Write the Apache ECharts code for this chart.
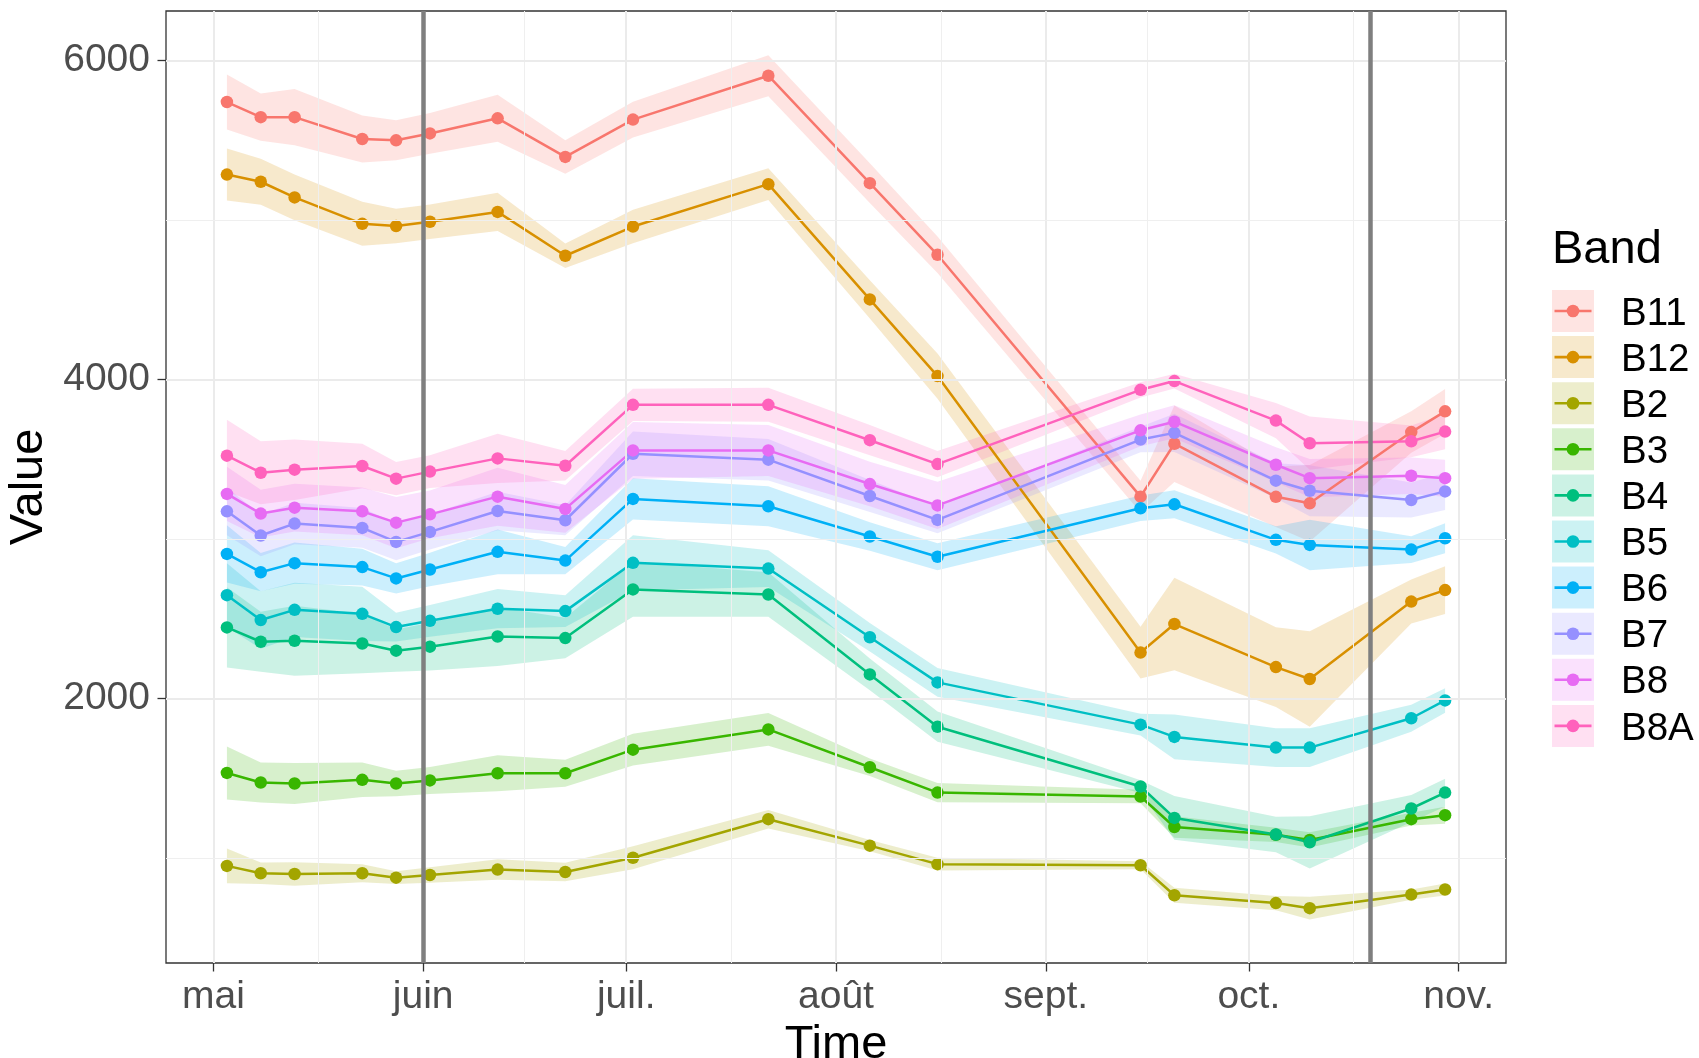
<!DOCTYPE html>
<html><head><meta charset="utf-8">
<script src="https://cdn.jsdelivr.net/npm/echarts@6/dist/echarts.min.js"></script>
<style>html,body{margin:0;padding:0;background:#fff}#c{width:1699px;height:1058px}</style>
</head><body><div id="c"></div>
<script>
const dates = ['2021-05-03','2021-05-08','2021-05-13','2021-05-23','2021-05-28','2021-06-02','2021-06-12','2021-06-22','2021-07-02','2021-07-22','2021-08-06','2021-08-16','2021-09-15','2021-09-20','2021-10-05','2021-10-10','2021-10-25','2021-10-30'];
const bands = ['B11','B12','B2','B3','B4','B5','B6','B7','B8','B8A'];
const bandColors = ['#F8766D','#D89000','#A3A500','#39B600','#00BF7D','#00BFC4','#00B0F6','#9590FF','#E76BF3','#FF62BC'];

const meanB11 = [5740,5645,5645,5508,5500,5543,5638,5396,5630,5905,5231,4782,3265,3597,3264,3223,3670,3800];
const sdB11   = [172,148,176,148,125,128,147,105,112,128,125,115,100,240,190,240,130,140];
const meanB12 = [5285,5240,5142,4976,4962,4989,5051,4776,4959,5225,4502,4021,2287,2466,2196,2121,2607,2679];
const sdB12   = [163,144,144,138,108,108,120,77,105,99,120,142,162,290,250,300,138,150];
const meanB2  = [949,903,898,903,875,892,926,911,1000,1242,1076,960,953,765,716,684,769,801];
const sdB2    = [109,68,74,56,40,48,64,58,72,58,35,40,25,47,45,71,32,37];
const meanB3  = [1532,1472,1466,1489,1466,1485,1530,1530,1678,1805,1568,1409,1384,1193,1144,1112,1242,1267];
const sdB3    = [166,125,129,108,80,85,113,85,100,103,55,60,42,68,45,48,40,53];
const meanB4  = [2445,2355,2361,2344,2299,2324,2388,2378,2683,2651,2150,1822,1447,1250,1146,1097,1309,1409];
const sdB4    = [251,188,219,187,132,150,185,127,172,140,100,95,40,137,111,164,85,87];
const meanB5  = [2647,2491,2555,2530,2447,2486,2562,2547,2850,2814,2383,2100,1835,1758,1691,1691,1875,1987];
const sdB5    = [200,180,170,170,90,100,123,100,173,115,90,90,68,140,122,122,85,77];
const meanB6  = [2906,2791,2848,2823,2752,2808,2919,2864,3251,3205,3015,2888,3192,3217,2994,2962,2933,3004];
const sdB6    = [180,120,130,115,95,105,140,85,130,125,90,84,80,88,85,158,84,94];
const meanB7  = [3173,3021,3096,3069,2981,3044,3175,3117,3534,3497,3269,3119,3623,3665,3365,3302,3244,3298];
const sdB7    = [150,130,130,125,115,110,120,94,140,130,100,84,80,120,110,160,110,117];
const meanB8  = [3282,3159,3196,3173,3102,3154,3265,3188,3555,3555,3344,3210,3681,3735,3465,3381,3396,3381];
const sdB8    = [170,150,150,150,160,150,182,150,178,160,140,148,100,103,110,120,115,116];
const meanB8A = [3522,3415,3434,3457,3378,3422,3505,3459,3841,3841,3619,3469,3935,3990,3742,3600,3612,3673];
const sdB8A   = [225,197,190,140,104,102,155,92,101,107,95,83,48,46,110,167,100,110];

const monthTicks  = ['2021-05-01','2021-06-01','2021-07-01','2021-08-01','2021-09-01','2021-10-01','2021-11-01'];
const monthLabels = ['mai','juin','juil.','août','sept.','oct.','nov.'];
const minorXTicks = ['2021-05-16T12:00:00','2021-06-16T00:00:00','2021-07-16T12:00:00','2021-08-16T12:00:00','2021-09-16T00:00:00','2021-10-16T12:00:00'];
const yTicks = [2000, 4000, 6000];
const yMinorTicks = [1000, 3000, 5000];
const vlineDates = ['2021-06-01','2021-10-19'];
const xRange = ['2021-04-24','2021-11-08'];
const yRange = [340, 6311];

const means = {B11:meanB11,B12:meanB12,B2:meanB2,B3:meanB3,B4:meanB4,B5:meanB5,B6:meanB6,B7:meanB7,B8:meanB8,B8A:meanB8A};
const sds   = {B11:sdB11,B12:sdB12,B2:sdB2,B3:sdB3,B4:sdB4,B5:sdB5,B6:sdB6,B7:sdB7,B8:sdB8,B8A:sdB8A};

const FONT = "'Liberation Sans', Arial, sans-serif";
const t = s => +new Date(s.length > 10 ? s : s + 'T00:00:00');
function rgba(hex, a) {
  const n = parseInt(hex.slice(1), 16);
  return 'rgba(' + ((n >> 16) & 255) + ',' + ((n >> 8) & 255) + ',' + (n & 255) + ',' + a + ')';
}
const monthTickTs = monthTicks.map(t);
const dateTs = dates.map(t);

const series = [];
// gridlines
series.push({
  type: 'line', z: 1, silent: true, symbol: 'none',
  lineStyle: { opacity: 0 },
  data: [[dateTs[0], meanB11[0]]],
  markLine: {
    silent: true, symbol: ['none', 'none'], label: { show: false }, animation: false,
    data: [
      ...monthTicks.map(d => ({ xAxis: t(d), lineStyle: { color: '#EBEBEB', width: 2, type: 'solid' } })),
      ...minorXTicks.map(d => ({ xAxis: t(d), lineStyle: { color: '#EFEFEF', width: 1, type: 'solid' } })),
      ...yTicks.map(v => ({ yAxis: v, lineStyle: { color: '#EBEBEB', width: 2, type: 'solid' } })),
      ...yMinorTicks.map(v => ({ yAxis: v, lineStyle: { color: '#EFEFEF', width: 1, type: 'solid' } }))
    ]
  }
});
// ribbons (mean ± sd) as polygons through the axes' scales
bands.forEach((b, i) => {
  const m = means[b], s = sds[b];
  series.push({
    type: 'custom', name: 'band_' + b, z: 2, silent: true, clip: true,
    data: [[dateTs[0], m[0]]],
    encode: { x: 0, y: 1 },
    renderItem: (params, api) => {
      const pts = [];
      for (let k = 0; k < dateTs.length; k++) pts.push(api.coord([dateTs[k], m[k] + s[k]]));
      for (let k = dateTs.length - 1; k >= 0; k--) pts.push(api.coord([dateTs[k], m[k] - s[k]]));
      return { type: 'polygon', shape: { points: pts }, style: { fill: rgba(bandColors[i], 0.2), stroke: null } };
    }
  });
});
// lines + points
bands.forEach((b, i) => {
  const m = means[b];
  series.push({
    type: 'line', name: b, z: 3,
    symbol: 'circle', symbolSize: 12.5, showSymbol: true, showAllSymbol: true,
    itemStyle: { color: bandColors[i] },
    lineStyle: { color: bandColors[i], width: 2.5 },
    data: dateTs.map((d, k) => [d, m[k]])
  });
});
// vertical reference lines
series.push({
  type: 'line', z: 4, silent: true, symbol: 'none', lineStyle: { opacity: 0 },
  data: [[dateTs[0], meanB11[0]]],
  markLine: {
    silent: true, symbol: ['none', 'none'], label: { show: false }, animation: false,
    lineStyle: { color: '#7F7F7F', width: 4.5, type: 'solid' },
    data: vlineDates.map(d => ({ xAxis: t(d) }))
  }
});

// legend built with graphics
const keyX = 1552, keyY0 = 290, keyStep = 46.1, keySize = 42;
const graphics = [{
  type: 'text', z: 10,
  style: { text: 'Band', x: keyX, y: 250, fontSize: 47, fontFamily: FONT, fill: '#000', verticalAlign: 'middle', align: 'left' }
}];
bands.forEach((b, i) => {
  const y = keyY0 + i * keyStep, cy = y + keySize / 2;
  graphics.push({ type: 'rect', z: 10, shape: { x: keyX, y: y, width: keySize, height: keySize }, style: { fill: rgba(bandColors[i], 0.2) } });
  graphics.push({ type: 'line', z: 11, shape: { x1: keyX + 2.5, y1: cy, x2: keyX + keySize - 2.5, y2: cy }, style: { stroke: bandColors[i], lineWidth: 2.6 } });
  graphics.push({ type: 'circle', z: 12, shape: { cx: keyX + keySize / 2, cy: cy, r: 6.3 }, style: { fill: bandColors[i] } });
  graphics.push({ type: 'text', z: 12, style: { text: b, x: 1621, y: cy + 3, fontSize: 38.5, fontFamily: FONT, fill: '#000', verticalAlign: 'middle', align: 'left' } });
});

const chart = echarts.init(document.getElementById('c'), null, { renderer: 'canvas' });
chart.setOption({
  animation: false,
  backgroundColor: '#fff',
  grid: { left: 166, top: 11, right: 193, bottom: 95, containLabel: false, outerBoundsMode: 'none',
          show: true, borderColor: '#333333', borderWidth: 1.3, backgroundColor: 'transparent', z: 5 },
  xAxis: {
    type: 'value', min: t(xRange[0]), max: t(xRange[1]), scale: true,
    splitLine: { show: false },
    axisLine: { show: false },
    axisTick: { show: true, customValues: monthTickTs, length: 8.5, lineStyle: { color: '#333333', width: 1.3 } },
    axisLabel: {
      show: true, customValues: monthTickTs, margin: 15,
      fontSize: 39, fontFamily: FONT, color: '#4D4D4D', hideOverlap: false,
      formatter: v => { const k = monthTickTs.indexOf(+v); return k >= 0 ? monthLabels[k] : ''; }
    },
    name: 'Time', nameLocation: 'middle', nameGap: 49,
    nameTextStyle: { fontSize: 47, fontFamily: FONT, color: '#000' }
  },
  yAxis: {
    type: 'value', min: yRange[0], max: yRange[1],
    splitLine: { show: false },
    axisLine: { show: false },
    axisTick: { show: true, customValues: yTicks, length: 8.5, lineStyle: { color: '#333333', width: 1.3 } },
    axisLabel: { show: true, customValues: yTicks, margin: 16, fontSize: 39, fontFamily: FONT, color: '#4D4D4D',
                 formatter: v => String(v) },
    name: 'Value', nameLocation: 'middle', nameGap: 98, nameRotate: 90,
    nameTextStyle: { fontSize: 47, fontFamily: FONT, color: '#000' }
  },
  series: series,
  graphic: graphics
});
</script>
</body></html>
